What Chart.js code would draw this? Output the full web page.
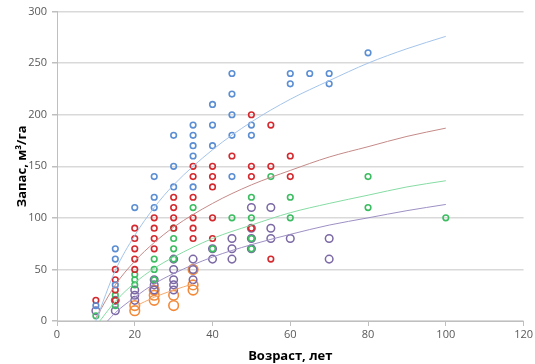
<!DOCTYPE html>
<html>
<head>
<meta charset="utf-8">
<script src="https://cdn.jsdelivr.net/npm/chart.js@4/dist/chart.umd.min.js"></script>
<style>
  html, body { margin: 0; padding: 0; background: #fff; }
  #wrap { width: 535px; height: 364px; }
</style>
</head>
<body>
<div id="wrap"><canvas id="chart" width="535" height="364"></canvas></div>
<script>
// scatter points (age, stock)
const blueX = [10, 15, 15, 15, 20, 25, 25, 25, 30, 30, 30, 35, 35, 35, 35, 35, 40, 40, 40, 45, 45, 45, 45, 45, 50, 50, 60, 60, 65, 70, 70, 80];
const blueY = [15, 70, 60, 35, 110, 140, 120, 110, 180, 150, 130, 190, 180, 170, 160, 130, 210, 190, 170, 240, 220, 200, 180, 140, 190, 180, 240, 230, 240, 240, 230, 260];

const redX = [10, 15, 15, 15, 15, 20, 20, 20, 20, 20, 25, 25, 25, 25, 30, 30, 30, 30, 35, 35, 35, 35, 35, 35, 40, 40, 40, 40, 40, 45, 50, 50, 50, 50, 55, 55, 55, 60, 60];
const redY = [20, 50, 40, 30, 20, 90, 80, 70, 60, 50, 100, 90, 80, 70, 120, 110, 100, 90, 150, 140, 120, 100, 90, 80, 150, 140, 130, 100, 80, 160, 200, 150, 140, 90, 190, 150, 60, 160, 140];

const greenX = [10, 15, 15, 20, 20, 20, 25, 25, 25, 30, 30, 30, 30, 35, 40, 45, 50, 50, 50, 50, 55, 60, 60, 80, 80, 100];
const greenY = [5, 25, 15, 45, 40, 35, 60, 50, 40, 90, 80, 70, 60, 110, 70, 100, 120, 100, 80, 70, 140, 120, 100, 140, 110, 100];

const purpleX = [10, 15, 15, 20, 20, 20, 25, 25, 25, 30, 30, 30, 30, 30, 35, 35, 35, 40, 40, 45, 45, 45, 50, 50, 50, 50, 55, 55, 55, 60, 70, 70];
const purpleY = [10, 10, 20, 30, 25, 20, 40, 35, 30, 60, 50, 40, 35, 30, 60, 50, 40, 70, 60, 80, 70, 60, 110, 90, 80, 70, 110, 90, 80, 80, 80, 60];

const orangeX = [20, 20, 25, 25, 25, 30, 30, 35, 35, 35];
const orangeY = [15, 10, 30, 25, 20, 25, 15, 50, 35, 30];

// trend curves, values
const blueTrendX = [10, 15, 20, 25, 30, 40, 50, 60, 70, 80, 90, 100];
const blueTrendY = [0, 49, 83, 110, 132, 166, 193, 215, 233, 250, 264, 276];
const redTrendX = [10, 15, 20, 25, 30, 40, 50, 60, 70, 80, 90, 100];
const redTrendY = [3, 35, 58, 76, 91, 114, 132, 146, 159, 169, 179, 187];
const greenTrendX = [11, 15, 20, 25, 30, 40, 50, 60, 70, 80, 90, 100];
const greenTrendY = [0, 19, 37, 51, 62, 80, 93, 105, 114, 122, 130, 136];
const purpleTrendX = [13, 15, 20, 25, 30, 40, 50, 60, 70, 80, 90, 100];
const purpleTrendY = [0, 8, 23, 36, 46, 62, 74, 84, 93, 100, 107, 113];
const orangeTrendX = [20, 25, 30, 35];
const orangeTrendY = [14, 23, 30, 36];

const xTicks = [0, 20, 40, 60, 80, 100, 120];
const yTicks = [0, 50, 100, 150, 200, 250, 300];

function pts(xs, ys) {
  return xs.map((x, i) => ({ x: x, y: ys[i] }));
}

function marks(xs, ys, color, r, bw) {
  return {
    data: pts(xs, ys), showLine: false,
    pointStyle: 'circle', pointRadius: r, pointBorderWidth: bw,
    pointBorderColor: color, pointBackgroundColor: 'rgba(255,255,255,0)',
    order: 2
  };
}

function trend(xs, ys, color) {
  return {
    data: pts(xs, ys), showLine: true, pointRadius: 0,
    borderColor: color, borderWidth: 1, cubicInterpolationMode: 'monotone',
    order: 1
  };
}

const grey = '#595959';
const tickFont = { family: 'Open Sans', size: 11 };
const titleFont = { family: 'Open Sans', size: 13, weight: 'bold' };

new Chart(document.getElementById('chart').getContext('2d'), {
  type: 'scatter',
  data: {
    datasets: [
      marks(blueX, blueY, '#5b8ed3', 2.8, 1.6),
      marks(redX, redY, '#d42a2f', 2.8, 1.6),
      marks(greenX, greenY, '#3dbd62', 2.8, 1.6),
      marks(purpleX, purpleY, '#7b68a4', 3.8, 1.5),
      marks(orangeX, orangeY, '#f28a3a', 4.8, 1.6),
      trend(blueTrendX, blueTrendY, '#a4c4ea'),
      trend(redTrendX, redTrendY, '#c48a88'),
      trend(greenTrendX, greenTrendY, '#86dca4'),
      trend(purpleTrendX, purpleTrendY, '#9e90c4'),
      trend(orangeTrendX, orangeTrendY, '#f6aa6c')
    ]
  },
  options: {
    responsive: false, animation: false,
    layout: { padding: { top: 10, right: 8, left: 0, bottom: 0 } },
    plugins: { legend: { display: false }, tooltip: { enabled: false } },
    scales: {
      x: {
        type: 'linear', min: 0, max: 120,
        afterBuildTicks: s => { s.ticks = xTicks.map(v => ({ value: v })); },
        afterFit: s => { s.height = 43; },
        ticks: { color: grey, font: tickFont, padding: 2 },
        grid: { drawOnChartArea: false, color: '#bfbfbf', tickLength: 5 },
        border: { color: '#bfbfbf', width: 1 },
        title: { display: true, text: 'Возраст, лет', color: '#000', font: titleFont, padding: { top: 3, bottom: 0 } }
      },
      y: {
        type: 'linear', min: 0, max: 300,
        afterBuildTicks: s => { s.ticks = yTicks.map(v => ({ value: v })); },
        afterFit: s => { s.width = 57; },
        ticks: { color: grey, font: tickFont, padding: 5 },
        grid: { color: '#d9d9d9', lineWidth: 1.5, tickLength: 5, tickColor: '#bfbfbf' },
        border: { color: '#bfbfbf', width: 1 },
        title: { display: true, text: 'Запас, м³/га', color: '#000', font: titleFont, padding: { top: 14, bottom: 0 } }
      }
    }
  }
});
</script>
</body>
</html>
